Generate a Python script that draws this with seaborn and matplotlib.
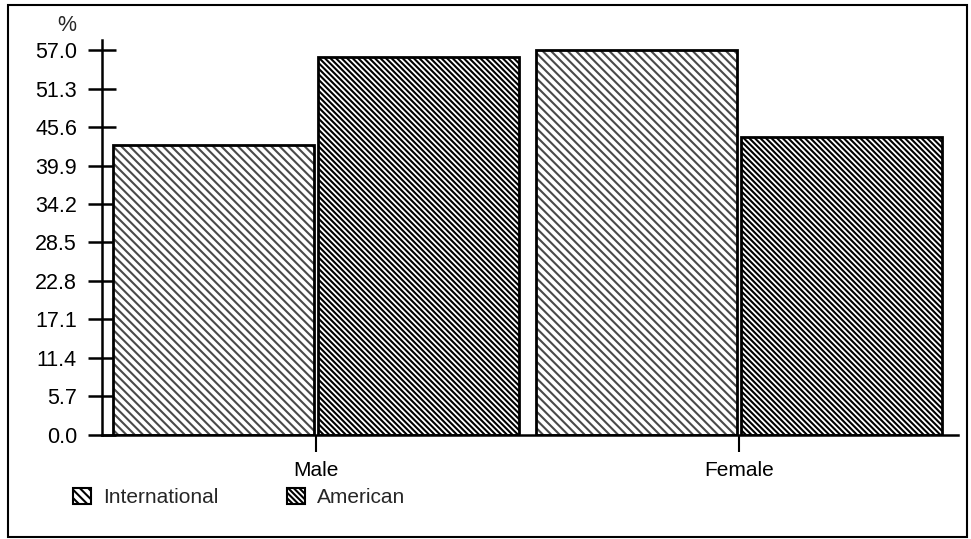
import matplotlib
matplotlib.use("Agg")
import matplotlib.pyplot as plt
import matplotlib.patches as mpatches
import seaborn as sns
import pandas as pd

# share of each group by gender (%)
genders = ["Male", "Female"]
series = ["International", "American"]
international = [43.0, 57.0]
american = [55.9, 44.1]
yticks = [0.0, 5.7, 11.4, 17.1, 22.8, 28.5, 34.2, 39.9, 45.6, 51.3, 57.0]

df = pd.DataFrame({
    "gender": genders * 2,
    "group": [series[0]] * 2 + [series[1]] * 2,
    "pct": international + american,
})

sns.set_style("white")
plt.rcParams["font.family"] = ["Liberation Sans", "DejaVu Sans"]
plt.rcParams["hatch.linewidth"] = 1.5

fig = plt.figure(figsize=(9.71, 5.39), dpi=100)
ax = fig.add_axes([0.105, 0.193, 0.882, 0.733])

hatches = {"International": "\\" * 4, "American": "\\" * 6}
hatch_cols = {"International": "#4a4a4a", "American": "black"}

sns.barplot(data=df, x="gender", y="pct", hue="group", order=genders,
            hue_order=series, width=0.97, gap=0.02,
            palette=["white", "white"], ax=ax, legend=False)
for cont, name in zip(ax.containers, series):
    for bar in cont:
        bar.set_hatch(hatches[name])
        bar.set_edgecolor(hatch_cols[name])
        bar.set_linewidth(0)

# heavy black outline over the hatched bars
sns.barplot(data=df, x="gender", y="pct", hue="group", order=genders,
            hue_order=series, width=0.97, gap=0.02, fill=False,
            palette=["black", "black"], linewidth=2, ax=ax, legend=False)

ax.set_xlim(-0.506, 1.518)
ax.set_ylim(0, 58.5)
ax.set_yticks(yticks)
ax.set_yticklabels([f"{v:.1f}" for v in yticks])
ax.set_xlabel("")
ax.set_ylabel("")
for s in ["top", "right"]:
    ax.spines[s].set_visible(False)
for s in ["left", "bottom"]:
    ax.spines[s].set_linewidth(1.8)
    ax.spines[s].set_color("black")
ax.tick_params(axis="y", direction="inout", length=20, width=1.8,
               labelsize=15.5, pad=8, colors="black", left=True)
ax.tick_params(axis="x", direction="out", length=12, width=1.5,
               labelsize=15, pad=7, colors="black", bottom=True)

fig.text(0.069, 0.952, "%", fontsize=15.5, ha="center", va="center")

handles = [mpatches.Patch(facecolor="white", edgecolor="black",
                          hatch=hatches[n], linewidth=1.5, label=n)
           for n in series]
fig.legend(handles=handles, loc="center left", bbox_to_anchor=(0.075, 0.077),
           ncol=2, frameon=False, fontsize=15, borderpad=0, borderaxespad=0,
           handlelength=0.85, handleheight=0.85, handletextpad=0.6,
           columnspacing=3.3)

fig.add_artist(mpatches.Rectangle((0.008, 0.004), 0.988, 0.987,
                                  transform=fig.transFigure, fill=False,
                                  edgecolor="black", linewidth=1.5))

fig.savefig("out.png", dpi=100)
